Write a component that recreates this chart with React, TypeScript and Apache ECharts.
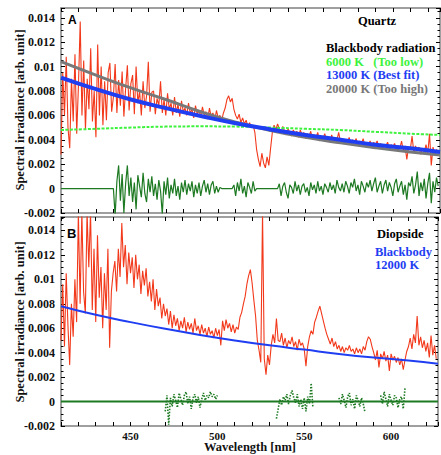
import React, { useEffect, useRef } from 'react';
import * as echarts from 'echarts';

// ---------- data (irradiance values in units of 0.001) ----------
const WL_START = 410;
const WL_STEP = 1;
const X_MIN = 410;
const X_MAX = 627;

// Panel A: Quartz measured spectrum, 410..626 nm
const quartzSpectrum = [
  2.8, 9.5, 6.0, 10.8, 5.0, 3.3, 9.0, 5.5, 11.0, 4.5,
  8.5, 13.7, 6.0, 10.5, 4.8, 9.0, 6.5, 11.5, 5.5, 8.0,
  4.2, 11.8, 6.0, 10.0, 5.2, 8.8, 5.6, 9.5, 10.3, 6.3,
  7.5, 10.2, 6.2, 8.9, 6.8, 9.6, 5.9, 8.2, 10.1, 6.4,
  8.6, 9.3, 6.1, 10.0, 7.0, 8.0, 6.0, 8.8, 6.6, 7.6,
  10.4, 6.3, 7.9, 8.0, 6.1, 7.4, 6.8, 8.8, 6.2, 7.3,
  6.0, 7.8, 6.5, 7.0, 6.0, 7.5, 6.2, 6.9, 5.9, 7.2,
  6.3, 6.6, 6.0, 7.0, 6.2, 6.5, 5.8, 6.8, 6.1, 6.4,
  5.9, 6.7, 6.0, 6.3, 5.7, 6.6, 5.9, 6.2, 5.6, 6.4,
  5.8, 6.0, 5.6, 6.2, 6.6, 7.3, 7.6, 7.1, 7.4, 6.5,
  6.0, 5.7, 6.1, 5.4, 5.8, 5.3, 5.6, 5.1, 5.4, 5.0,
  5.2, 4.6, 3.2, 2.4, 1.8, 2.9, 2.1, 1.7, 2.6, 1.9,
  3.3, 4.6, 5.2, 4.8, 5.3, 4.9, 4.5, 5.1, 4.7, 4.4,
  4.9, 4.6, 4.3, 4.8, 4.5, 4.7, 4.2, 4.8, 4.4, 4.6,
  4.1, 4.5, 4.3, 4.7, 4.0, 4.4, 4.2, 4.6, 3.9, 4.3,
  4.1, 4.5, 4.0, 4.2, 3.9, 4.4, 3.8, 4.2, 4.0, 4.6,
  3.8, 4.1, 3.7, 4.0, 3.8, 4.2, 3.6, 4.0, 3.8, 4.1,
  3.5, 3.9, 3.7, 4.1, 3.5, 3.8, 3.6, 3.9, 3.4, 3.8,
  3.6, 3.9, 3.4, 3.7, 3.3, 3.6, 3.5, 3.8, 3.3, 3.6,
  3.4, 3.7, 3.2, 3.5, 3.3, 3.9, 3.1, 3.5, 2.4, 3.4,
  3.2, 4.3, 3.0, 3.5, 3.1, 3.4, 2.8, 3.3, 3.0, 3.6,
  2.9, 4.5, 1.9, 3.4, 2.8, 3.2, 2.9,
];

// Panel A: fit residual, 410..626 nm
const quartzResidual = [
  0, 0, 0, 0, 0, 0, 0, 0, 0, 0,
  0, 0, 0, 0, 0, 0, 0, 0, 0, 0,
  0, 0, 0, 0, 0, 0, 0, 0, 0, 0,
  0, -2.2, 0.6, 1.9, -1.0, 1.2, -2.0, 0.4, 1.9, -0.6,
  0.9, -1.1, 0.5, -1.7, 1.1, 0.2, -0.7, 1.3, -0.4, -1.1,
  0.8, -0.3, 1.0, -0.6, 0.4, -0.9, 0.7, -0.2, -2.1, 0.6,
  -0.5, 0.9, -0.8, 0.3, -0.4, 0.8, -0.6, 0.2, -0.9, 0.5,
  -0.3, 0.7, -0.5, 0.4, -0.2, 0.6, -0.7, 0.3, -0.4, 0.5,
  -0.6, 0.2, 0.7, -0.3, 0.4, -0.5, 0.3, 0.6, -0.4, 0.2,
  -0.3, 0.1, 0, 0, 0, 0, 0, 0, 0, 0.3,
  -0.6, 0.5, -0.2, 0.8, -0.4, 0.2, -0.7, 0.5, 0.1, -0.4,
  0.6, -0.2, 0, 0, 0, 0, 0, 0, 0, 0,
  0, 0, 0, 0, 0, 0.4, -0.6, 0.2, 0.5, -0.3,
  -0.8, 0.3, 0.1, -0.4, 0.6, -0.2, 0.3, -0.5, 0.2, 0.4,
  -0.3, 0.1, -0.6, 0.5, -0.1, 0.3, -0.4, 0.6, -0.2, 0.2,
  -0.5, 0.4, 0.1, -0.3, 0.5, -0.1, 0.3, -0.4, 0.7, 0.1,
  -0.2, 0.4, -0.3, 0.6, 0.2, -0.4, 0.5, 0.1, 0.8, -0.2,
  0.3, -0.5, 0.6, 0.2, -0.3, 0.5, 0.1, 0.7, -0.2, 0.4,
  0.9, -0.3, 0.2, 0.6, -0.4, 0.3, 0.7, -0.2, 0.5, 0.1,
  -0.6, 0.4, 0.8, -0.3, 0.2, 0.6, -0.5, 0.3, -0.9, 0.5,
  0.2, 1.0, -0.4, 0.3, 1.4, -0.6, 0.5, -0.2, 0.8, -0.8,
  0.4, 1.3, -1.2, 0.6, -0.3, 0.9, 0.2,
];

// Panel B: Diopside measured spectrum, 410..626 nm
const diopsideSpectrum = [
  5.0, 9.6, 4.5, 10.5, 6.2, 3.0, 8.0, 5.3, 10.0, 6.5,
  15.5, 8.0, 15.5, 9.0, 7.2, 15.5, 11.0, 15.5, 7.5, 12.5,
  6.5, 13.6, 8.5, 11.0, 6.0, 10.5, 7.5, 12.5, 4.4, 9.0,
  10.5, 11.5, 9.0, 12.5, 10.2, 14.6, 11.0, 12.8, 9.6, 12.2,
  10.5, 11.8, 9.3, 12.0, 10.0, 11.2, 8.8, 10.7, 9.5, 10.9,
  8.6, 9.8, 8.2, 10.0, 7.5, 9.2, 7.8, 8.5, 6.8, 8.0,
  7.0, 7.6, 6.3, 7.4, 6.0, 7.1, 6.2, 6.8, 5.8, 6.6,
  6.0, 6.9, 5.7, 6.5, 5.9, 6.4, 5.6, 6.8, 5.8, 6.2,
  5.5, 6.3, 5.6, 6.0, 5.3, 6.1, 5.5, 5.8, 5.2, 6.0,
  5.4, 5.9, 4.6, 6.6, 5.8, 6.7, 6.0, 6.4, 5.7, 6.3,
  5.6, 6.1, 5.9, 6.9, 7.3, 8.0, 8.6, 9.6, 10.3, 10.8,
  9.7, 8.3, 7.0, 5.0, 4.2, 3.2, 15.5, 3.5, 2.2, 3.8,
  3.0, 4.6, 5.5, 4.8, 6.8, 5.0, 4.9, 5.6, 4.6, 5.2,
  4.4, 5.0, 4.7, 5.3, 4.5, 4.9, 4.2, 5.1, 4.6, 4.8,
  4.3, 2.9, 4.5, 5.3, 5.8, 5.5, 6.5, 6.9, 7.4, 7.8,
  7.2, 6.6, 6.0, 5.5, 5.1, 4.7, 5.2, 4.5, 4.9, 4.3,
  4.6, 4.1, 4.5, 4.0, 4.4, 4.2, 4.6, 4.1, 4.3, 3.9,
  4.4, 4.0, 4.3, 3.9, 4.5, 4.2, 4.9, 5.3, 5.1, 4.5,
  4.0, 3.4, 4.2, 2.8, 3.9, 3.5, 4.1, 3.3, 3.8, 2.5,
  3.9, 3.4, 3.7, 3.2, 3.6, 3.0, 3.5, 2.6, 3.4, 4.1,
  4.5, 5.2, 4.3, 5.5, 4.8, 7.0, 4.6, 5.3, 4.4, 5.0,
  4.1, 4.8, 3.6, 5.4, 3.8, 4.6, 3.5,
];

// Panel B residual: zero baseline and fitted segments
const diopsideBaselineWl = [410, 627];
const diopsideBaseline = [0, 0];
const diopResid1Start = 470;
const diopResid1 = [-0.8, 0.5, -1.9, 0.3, -0.4, 0.6, 0.1, -0.5, 0.7, 0.2, -0.3, 0.5, 0.8, -0.2, 0.4, -0.6, 0.3, 0.6, -0.1, 0.4, -0.5, 0.2, 0.7, 0.1, 0.5, 0.3, 0.8, 0.4, 0.6, 0.2, 0.5];
const diopResid2Start = 534;
const diopResid2 = [-1.4, -0.6, 0.2, -0.3, 0.4, 0.1, 0.6, -0.2, 0.5, 0.9, 0.3, -0.1, 0.6, -0.4, 0.2, -0.6, 0.3, -0.8, 0.4, -0.2, 1.5, -0.5];
const diopResid3Start = 570;
const diopResid3 = [0.3, -0.2, 0.6, 0.1, -0.5, 0.4, 0.7, -0.3, 0.2, -0.6, 0.5, 0.1, -0.4, 0.3, -0.2, -0.9];
const diopResid4Start = 594;
const diopResid4 = [0.5, -0.2, 0.8, 0.2, -0.4, 0.6, 0.1, -0.3, 0.5, 0.3, -0.5, 0.2, 0.4, -0.6, 1.1];

// Blackbody curves
const BB_WL = [410, 430, 450, 470, 490, 510, 530, 550, 570, 590, 610, 627];
const bb6000 = [4.8, 4.9, 5.0, 5.08, 5.1, 5.08, 5.0, 4.9, 4.8, 4.65, 4.5, 4.4];
const bb13000 = [9.1, 8.15, 7.3, 6.6, 5.95, 5.35, 4.85, 4.4, 4.0, 3.6, 3.3, 3.0];
const bb20000 = [10.4, 9.3, 8.25, 7.3, 6.3, 5.45, 4.75, 4.2, 3.75, 3.35, 3.0, 2.75];
const bb12000 = [7.8, 7.1, 6.5, 5.95, 5.45, 5.0, 4.6, 4.25, 3.9, 3.6, 3.35, 3.1];

// Axis ticks
const Y_MIN = -0.002;
const Y_INTERVAL = 0.002;
const Y_MAX_A = 0.0148;
const Y_MAX_B = 0.0151;
const X_INTERVAL = 10;
const X_LABEL_EVERY = 50;

// ---------- helpers ----------
const MILLI = 1000;
const seq = (start: number, vals: number[]) => vals.map((v, i) => [start + i * WL_STEP, v / MILLI]);
const pairs = (wl: number[], vals: number[]) => vals.map((v, i) => [wl[i], v / MILLI]);

const SERIF = '"Liberation Serif", "Times New Roman", serif';
const SANS = '"Liberation Sans", Arial, sans-serif';
const FRAME = '#808080';
const RED = '#f2391b';
const BLUE = '#1f3ef2';
const GRAY = '#787878';
const LIME = '#3df23d';
const DKGREEN = '#1d7a22';

const yFmt = (v: number) => {
  const k = v / Y_INTERVAL;
  if (Math.abs(k - Math.round(k)) > 1e-6) return '';
  return String(parseFloat(v.toFixed(3)));
};
const xFmt = (v: number) => (Math.round(v) % X_LABEL_EVERY === 0 ? String(Math.round(v)) : '');

function makeX(gridIndex: number, position: 'top' | 'bottom', labels: boolean) {
  return {
    type: 'value', gridIndex, position, min: X_MIN, max: X_MAX, interval: X_INTERVAL,
    axisLine: { show: true, onZero: false, lineStyle: { color: FRAME, width: 1.5 } },
    axisTick: { show: true, inside: true, length: 4, lineStyle: { color: '#000', width: 1 } },
    axisLabel: {
      show: labels, formatter: xFmt, margin: 4, color: '#111',
      fontFamily: SERIF, fontWeight: 'bold', fontSize: 11,
    },
    splitLine: { show: false },
  };
}
function makeY(gridIndex: number, position: 'left' | 'right', max: number, labels: boolean) {
  return {
    type: 'value', gridIndex, position, min: Y_MIN, max, interval: Y_INTERVAL,
    axisLine: { show: true, onZero: false, lineStyle: { color: FRAME, width: 1.5 } },
    axisTick: { show: true, inside: true, length: 4, lineStyle: { color: '#000', width: 1 } },
    minorTick: { show: true, splitNumber: 4, length: 2.5, lineStyle: { color: '#000', width: 1 } },
    axisLabel: {
      show: labels, formatter: yFmt, margin: 6, color: '#111',
      fontFamily: SERIF, fontWeight: 'bold', fontSize: 12, showMaxLabel: false,
    },
    splitLine: { show: false },
  };
}

function line(name: string, data: number[][], xi: number, yi: number, color: string, width: number, extra: any = {}) {
  return {
    type: 'line', name, data, xAxisIndex: xi, yAxisIndex: yi, showSymbol: false, symbol: 'none',
    lineStyle: { color, width, ...(extra.lineStyle || {}) }, smooth: extra.smooth || false,
    clip: true, z: extra.z || 2, silent: true,
  };
}

function txt(text: string, x: number, y: number, color: string, size: number, opts: any = {}) {
  return {
    type: 'text', x, y, rotation: opts.rotation || 0, z: 100,
    style: {
      text, fill: color, fontSize: size, fontWeight: 'bold', fontFamily: opts.family || SERIF,
      textAlign: opts.align || 'left', textVerticalAlign: 'middle', lineHeight: size,
    },
  };
}

export default function App() {
  const ref = useRef<HTMLDivElement>(null);
  useEffect(() => {
    if (!ref.current) return;
    const chart = echarts.init(ref.current, null, { renderer: 'svg' });
    const option: any = {
      animation: false,
      backgroundColor: '#fff',
      grid: [
        { left: 61, top: 8, width: 379, height: 205 },
        { left: 61, top: 217, width: 379, height: 209 },
      ],
      xAxis: [
        makeX(0, 'bottom', false),
        makeX(0, 'top', false),
        makeX(1, 'bottom', true),
        makeX(1, 'top', false),
      ],
      yAxis: [
        makeY(0, 'left', Y_MAX_A, true),
        makeY(0, 'right', Y_MAX_A, false),
        makeY(1, 'left', Y_MAX_B, true),
        makeY(1, 'right', Y_MAX_B, false),
      ],
      series: [
        line('Quartz', seq(WL_START, quartzSpectrum), 0, 0, RED, 1.1),
        line('6000 K', pairs(BB_WL, bb6000), 0, 0, LIME, 2, { smooth: true, lineStyle: { type: [3, 1.5] }, z: 3 }),
        line('20000 K', pairs(BB_WL, bb20000), 0, 0, GRAY, 3, { smooth: true, z: 4 }),
        line('13000 K', pairs(BB_WL, bb13000), 0, 0, BLUE, 4, { smooth: true, z: 5 }),
        line('Residual A', seq(WL_START, quartzResidual), 0, 0, DKGREEN, 1.2, { z: 3 }),

        line('Diopside', seq(WL_START, diopsideSpectrum), 2, 2, RED, 1.1),
        line('12000 K', pairs(BB_WL, bb12000), 2, 2, BLUE, 2, { smooth: true, z: 5 }),
        line('Baseline B', pairs(diopsideBaselineWl, diopsideBaseline), 2, 2, DKGREEN, 2, { z: 3 }),
        line('Residual B1', seq(diopResid1Start, diopResid1), 2, 2, DKGREEN, 1.6, { lineStyle: { type: [1.5, 1.5] }, z: 4 }),
        line('Residual B2', seq(diopResid2Start, diopResid2), 2, 2, DKGREEN, 1.6, { lineStyle: { type: [1.5, 1.5] }, z: 4 }),
        line('Residual B3', seq(diopResid3Start, diopResid3), 2, 2, DKGREEN, 1.6, { lineStyle: { type: [1.5, 1.5] }, z: 4 }),
        line('Residual B4', seq(diopResid4Start, diopResid4), 2, 2, DKGREEN, 1.6, { lineStyle: { type: [1.5, 1.5] }, z: 4 }),
      ],
      graphic: [
        txt('A', 68, 20, '#000', 12, { family: SANS }),
        txt('B', 67, 233, '#000', 13, { family: SANS }),
        txt('Quartz', 377, 21, '#000', 12.5, { align: 'center' }),
        txt('Blackbody radiation', 326, 48, '#000', 12.5),
        txt('6000 K   (Too low)', 326, 61.5, LIME, 12.5),
        txt('13000 K (Best fit)', 326, 75, BLUE, 12.5),
        txt('20000 K (Too high)', 326, 88.5, GRAY, 12.5),
        txt('Diopside', 377, 234, '#000', 12.5),
        txt('Blackbody', 375, 251.5, BLUE, 12.5),
        txt('12000 K', 375, 264.5, BLUE, 12.5),
        txt('Spectral irradiance [arb. unit]', 20, 110, '#111', 12.5, { rotation: Math.PI / 2, align: 'center' }),
        txt('Spectral irradiance [arb. unit]', 20, 322, '#111', 12.5, { rotation: Math.PI / 2, align: 'center' }),
        txt('Wavelength [nm]', 250, 447, '#111', 12.5, { align: 'center' }),
      ],
    };
    chart.setOption(option);
    return () => chart.dispose();
  }, []);
  return (
    <div
      ref={ref}
      style={{ position: 'fixed', left: 0, top: 0, width: 441, height: 455, background: '#fff' }}
    />
  );
}
